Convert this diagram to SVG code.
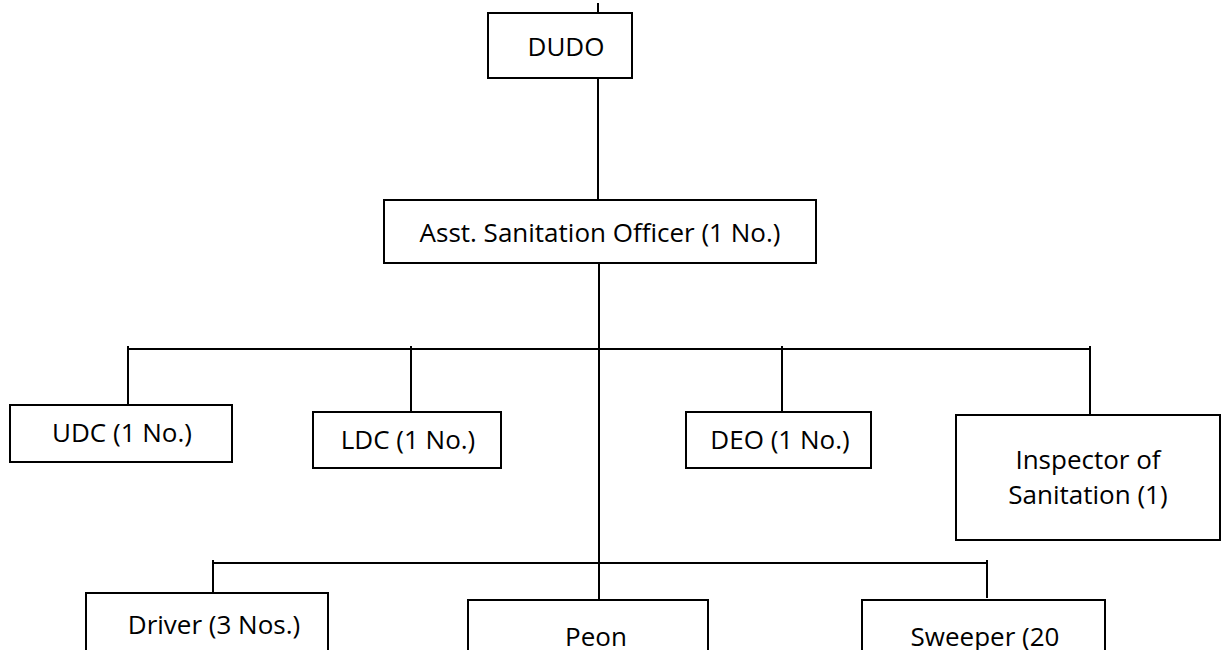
<svg xmlns="http://www.w3.org/2000/svg" width="1222" height="650" viewBox="0 0 1222 650">
<style>
.box{fill:#fff;stroke:#000;stroke-width:2}
.ln{stroke:#000;stroke-width:2;fill:none}
text{font-family:"Open Sans","Noto Sans",sans-serif;font-size:26px;fill:#000;text-anchor:middle}
</style>
<rect width="1222" height="650" fill="#fff"/>
<g id="connectors">
<line class="ln" x1="598" y1="3" x2="598" y2="13"/>
<line class="ln" x1="598" y1="78" x2="598" y2="200"/>
<line class="ln" x1="599" y1="263" x2="599" y2="600"/>
<line class="ln" x1="127" y1="349" x2="1091" y2="349"/>
<line class="ln" x1="128" y1="346" x2="128" y2="405"/>
<line class="ln" x1="411" y1="346" x2="411" y2="412"/>
<line class="ln" x1="782" y1="346" x2="782" y2="412"/>
<line class="ln" x1="1090" y1="346" x2="1090" y2="415"/>
<line class="ln" x1="212" y1="563" x2="988" y2="563"/>
<line class="ln" x1="213" y1="560" x2="213" y2="593"/>
<line class="ln" x1="987" y1="560" x2="987" y2="598"/>
</g>
<g id="dudo"><rect class="box" x="488" y="13" width="144" height="65"/><text x="566" y="56">DUDO</text></g>
<g id="aso"><rect class="box" x="384" y="200" width="432" height="63"/><text x="600" y="242">Asst. Sanitation Officer (1 No.)</text></g>
<g id="udc"><rect class="box" x="10" y="405" width="222" height="57"/><text x="122" y="442">UDC (1 No.)</text></g>
<g id="ldc"><rect class="box" x="313" y="412" width="188" height="56"/><text x="408" y="449">LDC (1 No.)</text></g>
<g id="deo"><rect class="box" x="686" y="412" width="185" height="56"/><text x="780" y="449">DEO (1 No.)</text></g>
<g id="inspector"><rect class="box" x="956" y="415" width="264" height="125"/><text x="1088" y="469">Inspector of</text><text x="1088" y="504">Sanitation (1)</text></g>
<g id="driver"><rect class="box" x="86" y="593" width="242" height="70"/><text x="214" y="634">Driver (3 Nos.)</text></g>
<g id="peon"><rect class="box" x="468" y="600" width="240" height="70"/><text x="596" y="646">Peon</text></g>
<g id="sweeper"><rect class="box" x="862" y="600" width="243" height="70"/><text x="985" y="646">Sweeper (20</text></g>
</svg>
